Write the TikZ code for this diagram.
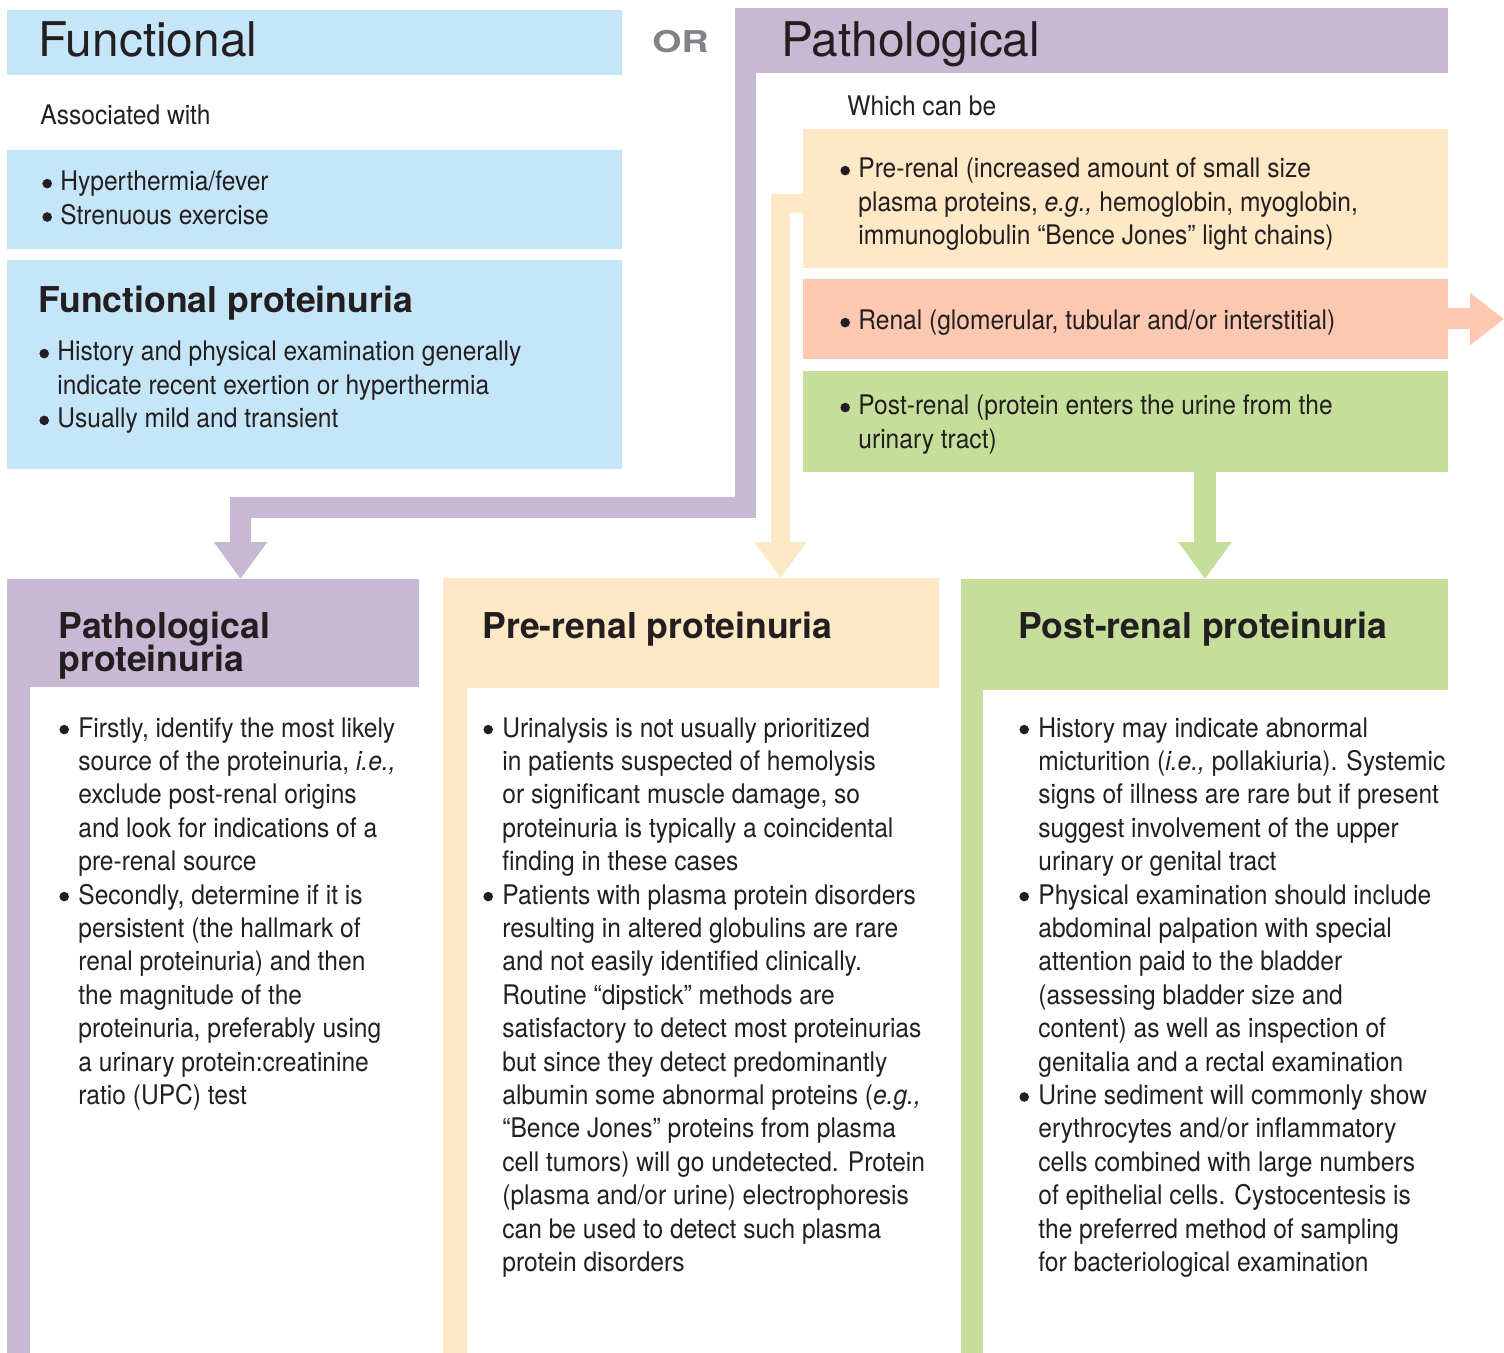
\documentclass[tikz,border=0pt]{standalone}
\usepackage{fontspec}
\usepackage{pict2e}
\usetikzlibrary{arrows.meta,calc}
\newfontfamily\bodyfont[FakeStretch=0.91]{TeX Gyre Heros}
\newfontfamily\headfont{TeX Gyre Heros}
\newfontfamily\orfont[FakeStretch=1.25]{TeX Gyre Heros}
\definecolor{skyblue}{HTML}{C4E6F8}
\definecolor{lilac}{HTML}{C7B8D4}
\definecolor{cream}{HTML}{FEE8C6}
\definecolor{salmon}{HTML}{FCC8B1}
\definecolor{leaf}{HTML}{C5DF9B}
\definecolor{ink}{HTML}{231F20}
\definecolor{orgrey}{HTML}{808285}
\newcommand{\bul}{\makebox[9pt][l]{\setlength{\unitlength}{1pt}\begin{picture}(5,0)\put(2.4,3.7){\circle*{4.8}}\end{picture}}}
\newcommand{\bulw}{\makebox[9.5pt][l]{\setlength{\unitlength}{1pt}\begin{picture}(5,0)\put(2.4,3.7){\circle*{4.8}}\end{picture}}}

\begin{document}
\begin{tikzpicture}[x=0.5pt,y=-0.5pt,
	panel/.style={anchor=north west,inner sep=0,outer sep=0,draw=none},
	bigtitle/.style={anchor=base west,inner sep=0,text=ink,font=\headfont\fontsize{23.9}{28}\selectfont},
	coltitle/.style={anchor=base west,inner sep=0,text=ink,font=\headfont\bfseries\fontsize{17.8}{16.6}\selectfont},
	body/.style={anchor=base west,inner sep=0,text=ink,font=\bodyfont\fontsize{13.5}{16.7}\selectfont},
	blockarrow/.style={line join=miter,line cap=butt},
]
	\useasboundingbox (0,0) rectangle (1504,1353);

	%functional side
	\node[panel,fill=skyblue,minimum width=307.5pt,minimum height=32.5pt] (funchd) at (7,10) {};
	\node[bigtitle] (functitle) at (38,57) {Functional};
	\node[body] (assoc) at (40,125) {Associated with};
	\node[panel,fill=skyblue,minimum width=307.5pt,minimum height=49.5pt] (funcbox) at (7,150) {};
	\node[body] (functxt) at (42,191) {\begin{tabular}[t]{@{}l@{}l@{}}
		\bul & Hyperthermia/fever\\
		\bul & Strenuous exercise
	\end{tabular}};
	\node[panel,fill=skyblue,minimum width=307.5pt,minimum height=104.5pt] (funcprot) at (7,260) {};
	\node[coltitle] (funcprottitle) at (38,313) {Functional proteinuria};
	\node[body] (funcprottxt) at (39,361) {\begin{tabular}[t]{@{}l@{}l@{}}
		\bul & History and physical examination generally\\
		& indicate recent exertion or hyperthermia\\
		\bul & Usually mild and transient
	\end{tabular}};

	\node[anchor=base west,inner sep=0,text=orgrey,font=\orfont\bfseries\fontsize{15}{16}\selectfont] (or) at (652,53) {OR};

	%pathological side
	\node[panel,fill=lilac,minimum width=356.5pt,minimum height=32.5pt] (pathhd) at (735,8) {};
	\node[bigtitle] (pathtitle) at (781,57) {Pathological};
	\node[body] (which) at (847,116) {Which can be};
	\node[panel,fill=cream,minimum width=322.5pt,minimum height=69.5pt] (prebox) at (803,129) {};
	\node[body] (pretxt) at (840,178) {\begin{tabular}[t]{@{}l@{}l@{}}
		\bul & Pre-renal (increased amount of small size\\
		& plasma proteins, \textit{e.g.,} hemoglobin, myoglobin,\\
		& immunoglobulin “Bence Jones” light chains)
	\end{tabular}};
	\node[panel,fill=salmon,minimum width=322.5pt,minimum height=40pt] (renalbox) at (803,279) {};
	\node[body] (renaltxt) at (840,330) {\bul Renal (glomerular, tubular and/or interstitial)};
	\node[panel,fill=leaf,minimum width=322.5pt,minimum height=50.5pt] (postbox) at (803,371) {};
	\node[body] (posttxt) at (840,415) {\begin{tabular}[t]{@{}l@{}l@{}}
		\bul & Post-renal (protein enters the urine from the\\
		& urinary tract)
	\end{tabular}};

	%bottom columns
	\node[panel,fill=lilac,minimum width=206pt,minimum height=54pt] (pathcol) at (7,579) {};
	\fill[lilac] (pathcol.south west) rectangle ($(pathcol.south west)+(23,666)$);
	\node[panel,fill=cream,minimum width=248pt,minimum height=55pt] (precol) at (443,578) {};
	\fill[cream] (precol.south west) rectangle ($(precol.south west)+(24,665)$);
	\node[panel,fill=leaf,minimum width=243.5pt,minimum height=55.5pt] (postcol) at (961,579) {};
	\fill[leaf] (postcol.south west) rectangle ($(postcol.south west)+(22,663)$);

	\node[coltitle] (pathcoltitle) at (58,638) {\vtop{\lineskiplimit=-\maxdimen\hbox{Pathological}\hbox{proteinuria}}};
	\node[coltitle] (precoltitle) at (482,638) {Pre-renal proteinuria};
	\node[coltitle] (postcoltitle) at (1018,638) {Post-renal proteinuria};

	\node[body] (pathcoltxt) at (59,737) {\begin{tabular}[t]{@{}l@{}l@{}}
		\bulw & Firstly, identify the most likely\\
		& source of the proteinuria, \textit{i.e.,}\\
		& exclude post-renal origins\\
		& and look for indications of a\\
		& pre-renal source\\
		\bulw & Secondly, determine if it is\\
		& persistent (the hallmark of\\
		& renal proteinuria) and then\\
		& the magnitude of the\\
		& proteinuria, preferably using\\
		& a urinary protein:creatinine\\
		& ratio (UPC) test
	\end{tabular}};
	\node[body] (precoltxt) at (483,737) {\begin{tabular}[t]{@{}l@{}l@{}}
		\bulw & Urinalysis is not usually prioritized\\
		& in patients suspected of hemolysis\\
		& or significant muscle damage, so\\
		& proteinuria is typically a coincidental\\
		& finding in these cases\\
		\bulw & Patients with plasma protein disorders\\
		& resulting in altered globulins are rare\\
		& and not easily identified clinically.\\
		& Routine “dipstick” methods are\\
		& satisfactory to detect most proteinurias\\
		& but since they detect predominantly\\
		& albumin some abnormal proteins (\textit{e.g.,}\\
		& “Bence Jones” proteins from plasma\\
		& cell tumors) will go undetected. Protein\\
		& (plasma and/or urine) electrophoresis\\
		& can be used to detect such plasma\\
		& protein disorders
	\end{tabular}};
	\node[body] (postcoltxt) at (1019,737) {\begin{tabular}[t]{@{}l@{}l@{}}
		\bulw & History may indicate abnormal\\
		& micturition (\textit{i.e.,} pollakiuria). Systemic\\
		& signs of illness are rare but if present\\
		& suggest involvement of the upper\\
		& urinary or genital tract\\
		\bulw & Physical examination should include\\
		& abdominal palpation with special\\
		& attention paid to the bladder\\
		& (assessing bladder size and\\
		& content) as well as inspection of\\
		& genitalia and a rectal examination\\
		\bulw & Urine sediment will commonly show\\
		& erythrocytes and/or inflammatory\\
		& cells combined with large numbers\\
		& of epithelial cells. Cystocentesis is\\
		& the preferred method of sampling\\
		& for bacteriological examination
	\end{tabular}};

	%block arrows
	\draw[blockarrow,lilac,line width=10.5pt,-{Triangle[length=18.5pt,width=25.5pt]}]
		($(pathhd.north west)+(10.5,0)$) -- ++(0,499.5) -| ($(pathcol.north west)+(233.5,0)$);
	\draw[blockarrow,cream,line width=9.5pt,-{Triangle[length=18pt,width=25pt]}]
		($(prebox.west)+(0,5.5)$) -| ($(precol.north west)+(337.5,0)$);
	\draw[blockarrow,leaf,line width=11pt,-{Triangle[length=18.5pt,width=25.5pt]}]
		($(postbox.south west)+(402,0)$) -- ($(postcol.north west)+(244,0)$);
	\coordinate (renalend) at (1504,319);
	\draw[blockarrow,salmon,line width=10.5pt,-{Triangle[length=17pt,width=25pt]}]
		(renalbox.east) -- (renalend);
\end{tikzpicture}
\end{document}
